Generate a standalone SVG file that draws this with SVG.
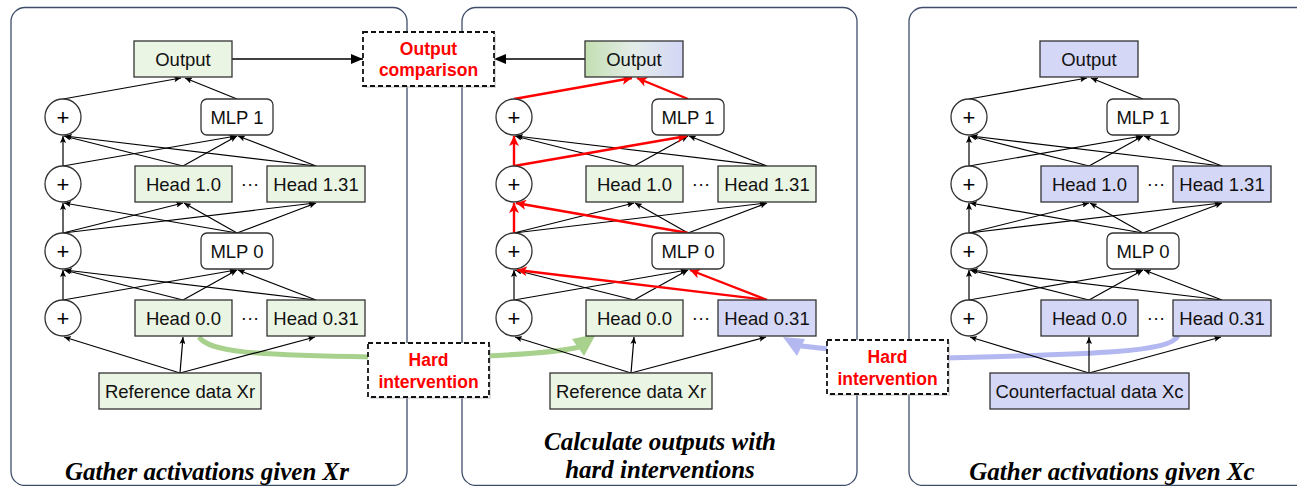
<svg xmlns="http://www.w3.org/2000/svg" width="1297" height="486" viewBox="0 0 1297 486">
<defs>
<style>
.frame{fill:#fff;stroke:#3f4d6b;stroke-width:1.3}
.g{fill:#ebf5e3;stroke:#333;stroke-width:1.3}
.b{fill:#d5d7f6;stroke:#333;stroke-width:1.3}
.w{fill:#fff;stroke:#333;stroke-width:1.3}
.lbl{font-family:"Liberation Sans",Arial,sans-serif;font-size:18.5px;fill:#111;text-anchor:middle}
.plus{font-family:"Liberation Sans",Arial,sans-serif;font-size:22px;fill:#000;text-anchor:middle}
.red{font-family:"Liberation Sans",Arial,sans-serif;font-size:17.5px;font-weight:bold;fill:#ff0000;text-anchor:middle}
.ttl{font-family:"Liberation Serif","Times New Roman",serif;font-size:25px;font-weight:bold;font-style:italic;fill:#000;text-anchor:middle}
.e{stroke:#000;stroke-width:1.2;fill:none;marker-end:url(#ab)}
.er{stroke:#ff0000;stroke-width:2.4;fill:none;marker-end:url(#ar)}
.dash{fill:#fff;stroke:#111;stroke-width:1.8;stroke-dasharray:5,3}
.shadow{fill:#bbb;opacity:0.5}
.big{stroke:#000;stroke-width:1.6;fill:none;marker-end:url(#abig)}
</style>
<marker id="ab" markerWidth="8" markerHeight="6" refX="7" refY="3" orient="auto" markerUnits="userSpaceOnUse"><path d="M0,0 L7,3 L0,6 L1.5,3 z" fill="#000"/></marker>
<marker id="ar" markerWidth="11" markerHeight="10" refX="10" refY="5" orient="auto" markerUnits="userSpaceOnUse"><path d="M0,0 L10,5 L0,10 L2.5,5 z" fill="#ff0000"/></marker>
<marker id="abig" markerWidth="13" markerHeight="10" refX="12" refY="5" orient="auto" markerUnits="userSpaceOnUse"><path d="M0,0 L12,5 L0,10 z" fill="#000"/></marker>
<linearGradient id="grad" x1="0" y1="0" x2="1" y2="0">
<stop offset="0" stop-color="#c3dfb1"/>
<stop offset="0.5" stop-color="#e4ece9"/>
<stop offset="1" stop-color="#d3d6f6"/>
</linearGradient>
</defs>

<g id="panels">
<rect class="frame" x="11" y="7.5" width="396" height="478" rx="14"/>
<rect class="frame" x="462" y="7.5" width="395" height="478" rx="14"/>
<rect class="frame" x="909" y="7.5" width="402" height="478" rx="14"/>
</g>

<g id="intervention-flows">
<path d="M199,337 C210,352 250,355 372,357" stroke="#a9d18e" stroke-width="5" fill="none"/>
<path d="M486,356 C530,354 560,352 579,347" stroke="#a9d18e" stroke-width="5" fill="none"/>
<polygon points="596,334 572,339 584,356" fill="#a9d18e"/>
<path d="M1178,336 C1170,352 1100,354 944,358" stroke="#b4b8f0" stroke-width="5" fill="none"/>
<path d="M830,349 C818,348 810,347 801,346" stroke="#b4b8f0" stroke-width="5" fill="none"/>
<polygon points="783,337 805,339 797,356" fill="#b4b8f0"/>
</g>

<g id="connectors">
<g id="edges-left">
<line class="e" x1="63" y1="99" x2="181" y2="78"/>
<line class="e" x1="237" y1="99" x2="185" y2="78"/>
<line class="e" x1="63" y1="166" x2="63" y2="136"/>
<line class="e" x1="183" y1="166" x2="64" y2="136"/>
<line class="e" x1="316" y1="166" x2="65" y2="136"/>
<line class="e" x1="63" y1="166" x2="236" y2="136"/>
<line class="e" x1="183" y1="166" x2="237" y2="136"/>
<line class="e" x1="316" y1="166" x2="238" y2="136"/>
<line class="e" x1="63" y1="233" x2="63" y2="203"/>
<line class="e" x1="237" y1="233" x2="64" y2="203"/>
<line class="e" x1="63" y1="233" x2="183" y2="203"/>
<line class="e" x1="237" y1="233" x2="184" y2="203"/>
<line class="e" x1="63" y1="233" x2="315" y2="203"/>
<line class="e" x1="237" y1="233" x2="316" y2="203"/>
<line class="e" x1="63" y1="300" x2="63" y2="270"/>
<line class="e" x1="183" y1="300" x2="64" y2="270"/>
<line class="e" x1="316" y1="300" x2="65" y2="270"/>
<line class="e" x1="63" y1="300" x2="236" y2="270"/>
<line class="e" x1="183" y1="300" x2="237" y2="270"/>
<line class="e" x1="316" y1="300" x2="238" y2="270"/>
<line class="e" x1="180" y1="373" x2="64" y2="337"/>
<line class="e" x1="180" y1="373" x2="183" y2="337"/>
<line class="e" x1="180" y1="373" x2="315" y2="337"/>
</g>
<g id="edges-middle" transform="translate(451,0)">
<line class="e" x1="183" y1="166" x2="64" y2="136"/>
<line class="e" x1="316" y1="166" x2="65" y2="136"/>
<line class="e" x1="183" y1="166" x2="237" y2="136"/>
<line class="e" x1="316" y1="166" x2="238" y2="136"/>
<line class="e" x1="63" y1="233" x2="183" y2="203"/>
<line class="e" x1="237" y1="233" x2="184" y2="203"/>
<line class="e" x1="63" y1="233" x2="315" y2="203"/>
<line class="e" x1="237" y1="233" x2="316" y2="203"/>
<line class="e" x1="63" y1="300" x2="63" y2="270"/>
<line class="e" x1="183" y1="300" x2="64" y2="270"/>
<line class="e" x1="63" y1="300" x2="236" y2="270"/>
<line class="e" x1="183" y1="300" x2="237" y2="270"/>
<line class="e" x1="180" y1="373" x2="64" y2="337"/>
<line class="e" x1="180" y1="373" x2="183" y2="337"/>
<line class="e" x1="180" y1="373" x2="315" y2="337"/>
<line class="er" x1="63" y1="99" x2="181" y2="78"/>
<line class="er" x1="237" y1="99" x2="186" y2="78"/>
<line class="er" x1="63" y1="166" x2="63" y2="136"/>
<line class="er" x1="63" y1="166" x2="236" y2="136"/>
<line class="er" x1="63" y1="233" x2="63" y2="203"/>
<line class="er" x1="237" y1="233" x2="65" y2="203"/>
<line class="er" x1="316" y1="300" x2="66" y2="270"/>
<line class="er" x1="316" y1="300" x2="239" y2="270"/>
</g>
<g id="edges-right" transform="translate(906,0)">
<line class="e" x1="63" y1="99" x2="181" y2="78"/>
<line class="e" x1="237" y1="99" x2="185" y2="78"/>
<line class="e" x1="63" y1="166" x2="63" y2="136"/>
<line class="e" x1="183" y1="166" x2="64" y2="136"/>
<line class="e" x1="316" y1="166" x2="65" y2="136"/>
<line class="e" x1="63" y1="166" x2="236" y2="136"/>
<line class="e" x1="183" y1="166" x2="237" y2="136"/>
<line class="e" x1="316" y1="166" x2="238" y2="136"/>
<line class="e" x1="63" y1="233" x2="63" y2="203"/>
<line class="e" x1="237" y1="233" x2="64" y2="203"/>
<line class="e" x1="63" y1="233" x2="183" y2="203"/>
<line class="e" x1="237" y1="233" x2="184" y2="203"/>
<line class="e" x1="63" y1="233" x2="315" y2="203"/>
<line class="e" x1="237" y1="233" x2="316" y2="203"/>
<line class="e" x1="63" y1="300" x2="63" y2="270"/>
<line class="e" x1="183" y1="300" x2="64" y2="270"/>
<line class="e" x1="316" y1="300" x2="65" y2="270"/>
<line class="e" x1="63" y1="300" x2="236" y2="270"/>
<line class="e" x1="183" y1="300" x2="237" y2="270"/>
<line class="e" x1="316" y1="300" x2="238" y2="270"/>
<line class="e" x1="183" y1="373" x2="64" y2="337"/>
<line class="e" x1="183" y1="373" x2="183" y2="337"/>
<line class="e" x1="183" y1="373" x2="315" y2="337"/>
</g>
<line class="big" x1="232" y1="59" x2="363" y2="59"/>
<line class="big" x1="585" y1="59" x2="494" y2="59"/>
</g>

<g id="left-nodes">
<g id="l-output"><rect class="g" x="134" y="41" width="98" height="36"/><text class="lbl" x="183" y="65.6">Output</text></g>
<g id="l-add1"><circle class="w" cx="63" cy="117" r="18"/><text class="plus" x="63" y="124.7">+</text></g>
<g id="l-mlp1"><rect class="w" x="201" y="99" width="72" height="36" rx="6"/><text class="lbl" x="237" y="123.6">MLP 1</text></g>
<g id="l-add2"><circle class="w" cx="63" cy="184" r="18"/><text class="plus" x="63" y="191.7">+</text></g>
<g id="l-head10"><rect class="g" x="135" y="166" width="97" height="36"/><text class="lbl" x="183.5" y="190.6">Head 1.0</text></g>
<g id="l-head131"><rect class="g" x="267" y="166" width="98" height="36"/><text class="lbl" x="316" y="190.6">Head 1.31</text></g>
<text class="lbl" x="250" y="190">···</text>
<g id="l-add3"><circle class="w" cx="63" cy="251" r="18"/><text class="plus" x="63" y="258.7">+</text></g>
<g id="l-mlp0"><rect class="w" x="201" y="233" width="72" height="36" rx="6"/><text class="lbl" x="237" y="257.6">MLP 0</text></g>
<g id="l-add4"><circle class="w" cx="63" cy="318" r="18"/><text class="plus" x="63" y="325.7">+</text></g>
<g id="l-head00"><rect class="g" x="135" y="300" width="97" height="36"/><text class="lbl" x="183.5" y="324.6">Head 0.0</text></g>
<g id="l-head031"><rect class="g" x="267" y="300" width="98" height="36"/><text class="lbl" x="316" y="324.6">Head 0.31</text></g>
<text class="lbl" x="250" y="324">···</text>
<g id="l-ref"><rect class="g" x="99" y="373" width="162" height="36"/><text class="lbl" x="180" y="397.6">Reference data Xr</text></g>
<text class="ttl" x="207" y="480">Gather activations given Xr</text>
</g>

<g id="middle-nodes">
<g id="m-output"><rect x="585" y="41" width="98" height="36" fill="url(#grad)" stroke="#333" stroke-width="1.3"/><text class="lbl" x="634" y="65.6">Output</text></g>
<g id="m-add1"><circle class="w" cx="514" cy="117" r="18"/><text class="plus" x="514" y="124.7">+</text></g>
<g id="m-mlp1"><rect class="w" x="652" y="99" width="72" height="36" rx="6"/><text class="lbl" x="688" y="123.6">MLP 1</text></g>
<g id="m-add2"><circle class="w" cx="514" cy="184" r="18"/><text class="plus" x="514" y="191.7">+</text></g>
<g id="m-head10"><rect class="g" x="586" y="166" width="97" height="36"/><text class="lbl" x="634.5" y="190.6">Head 1.0</text></g>
<g id="m-head131"><rect class="g" x="718" y="166" width="98" height="36"/><text class="lbl" x="767" y="190.6">Head 1.31</text></g>
<text class="lbl" x="701" y="190">···</text>
<g id="m-add3"><circle class="w" cx="514" cy="251" r="18"/><text class="plus" x="514" y="258.7">+</text></g>
<g id="m-mlp0"><rect class="w" x="652" y="233" width="72" height="36" rx="6"/><text class="lbl" x="688" y="257.6">MLP 0</text></g>
<g id="m-add4"><circle class="w" cx="514" cy="318" r="18"/><text class="plus" x="514" y="325.7">+</text></g>
<g id="m-head00"><rect class="g" x="586" y="300" width="97" height="36"/><text class="lbl" x="634.5" y="324.6">Head 0.0</text></g>
<g id="m-head031"><rect class="b" x="718" y="300" width="98" height="36"/><text class="lbl" x="767" y="324.6">Head 0.31</text></g>
<text class="lbl" x="701" y="324">···</text>
<g id="m-ref"><rect class="g" x="550" y="373" width="162" height="36"/><text class="lbl" x="631" y="397.6">Reference data Xr</text></g>
<text class="ttl" x="660" y="450">Calculate outputs with</text>
<text class="ttl" x="660" y="478">hard interventions</text>
</g>

<g id="right-nodes">
<g id="r-output"><rect class="b" x="1040" y="41" width="98" height="36"/><text class="lbl" x="1089" y="65.6">Output</text></g>
<g id="r-add1"><circle class="w" cx="969" cy="117" r="18"/><text class="plus" x="969" y="124.7">+</text></g>
<g id="r-mlp1"><rect class="w" x="1107" y="99" width="72" height="36" rx="6"/><text class="lbl" x="1143" y="123.6">MLP 1</text></g>
<g id="r-add2"><circle class="w" cx="969" cy="184" r="18"/><text class="plus" x="969" y="191.7">+</text></g>
<g id="r-head10"><rect class="b" x="1041" y="166" width="97" height="36"/><text class="lbl" x="1089.5" y="190.6">Head 1.0</text></g>
<g id="r-head131"><rect class="b" x="1173" y="166" width="98" height="36"/><text class="lbl" x="1222" y="190.6">Head 1.31</text></g>
<text class="lbl" x="1156" y="190">···</text>
<g id="r-add3"><circle class="w" cx="969" cy="251" r="18"/><text class="plus" x="969" y="258.7">+</text></g>
<g id="r-mlp0"><rect class="w" x="1107" y="233" width="72" height="36" rx="6"/><text class="lbl" x="1143" y="257.6">MLP 0</text></g>
<g id="r-add4"><circle class="w" cx="969" cy="318" r="18"/><text class="plus" x="969" y="325.7">+</text></g>
<g id="r-head00"><rect class="b" x="1041" y="300" width="97" height="36"/><text class="lbl" x="1089.5" y="324.6">Head 0.0</text></g>
<g id="r-head031"><rect class="b" x="1173" y="300" width="98" height="36"/><text class="lbl" x="1222" y="324.6">Head 0.31</text></g>
<text class="lbl" x="1156" y="324">···</text>
<g id="r-cf"><rect class="b" x="990" y="373" width="199" height="36"/><text class="lbl" x="1089.5" y="397.6">Counterfactual data Xc</text></g>
<text class="ttl" x="1112" y="480">Gather activations given Xc</text>
</g>

<g id="output-comparison">
<rect class="shadow" x="365" y="34" width="131" height="54"/>
<rect class="dash" x="363" y="32" width="131" height="54"/>
<text class="red" x="428.5" y="55">Output</text>
<text class="red" x="428.5" y="76">comparison</text>
</g>
<g id="hard-intervention-1">
<rect class="shadow" x="370" y="345" width="121" height="54"/>
<rect class="dash" x="368" y="343" width="121" height="54"/>
<text class="red" x="428.5" y="366">Hard</text>
<text class="red" x="428.5" y="388">intervention</text>
</g>
<g id="hard-intervention-2">
<rect class="shadow" x="829" y="342" width="121" height="54"/>
<rect class="dash" x="827" y="340" width="121" height="54"/>
<text class="red" x="887.5" y="363">Hard</text>
<text class="red" x="887.5" y="385">intervention</text>
</g>
</svg>
